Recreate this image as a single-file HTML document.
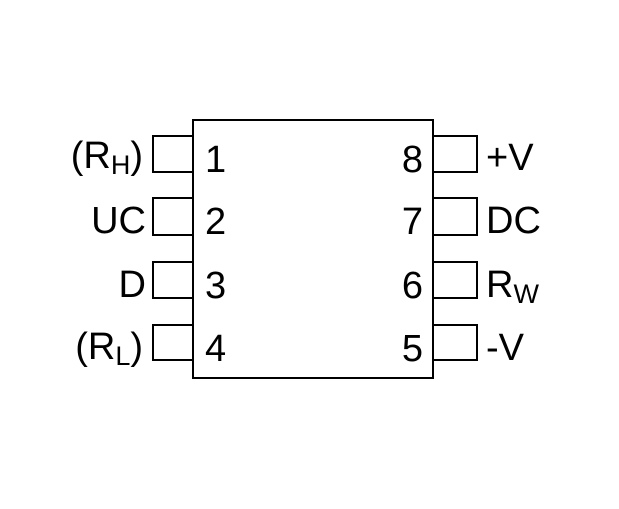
<!DOCTYPE html>
<html><head><style>
body{margin:0;background:#fff;width:619px;height:504px;overflow:hidden}
</style></head><body>
<svg width="619" height="504" xmlns="http://www.w3.org/2000/svg" font-family="Liberation Sans, Arial, sans-serif" font-size="38" fill="#000">
<g fill="none" stroke="#000" stroke-width="2">
<rect x="193" y="120" width="240" height="258"/>
<rect x="153" y="136" width="40" height="36"/>
<rect x="153" y="198" width="40" height="37"/>
<rect x="153" y="262" width="40" height="36"/>
<rect x="153" y="325" width="40" height="35"/>
<rect x="433" y="136" width="44" height="36"/>
<rect x="433" y="198" width="44" height="37"/>
<rect x="433" y="262" width="44" height="36"/>
<rect x="433" y="325" width="44" height="35"/>
</g>
<g text-anchor="start">
<text x="205" y="172">1</text>
<text x="205" y="234">2</text>
<text x="205" y="298">3</text>
<text x="205" y="361">4</text>
</g>
<g text-anchor="end">
<text x="423" y="172">8</text>
<text x="423" y="234">7</text>
<text x="423" y="298">6</text>
<text x="423" y="361">5</text>
<text x="143" y="168">(R<tspan font-size="27" dy="6">H</tspan><tspan dy="-6">)</tspan></text>
<text x="146" y="233">UC</text>
<text x="146" y="297">D</text>
<text x="143" y="359">(R<tspan font-size="27" dy="6">L</tspan><tspan dy="-6">)</tspan></text>
</g>
<text x="486" y="170">+V</text>
<text x="486" y="233">DC</text>
<text x="486" y="297">R<tspan font-size="27" dy="6">W</tspan></text>
<text x="486" y="360">-V</text>
</svg>
</body></html>
